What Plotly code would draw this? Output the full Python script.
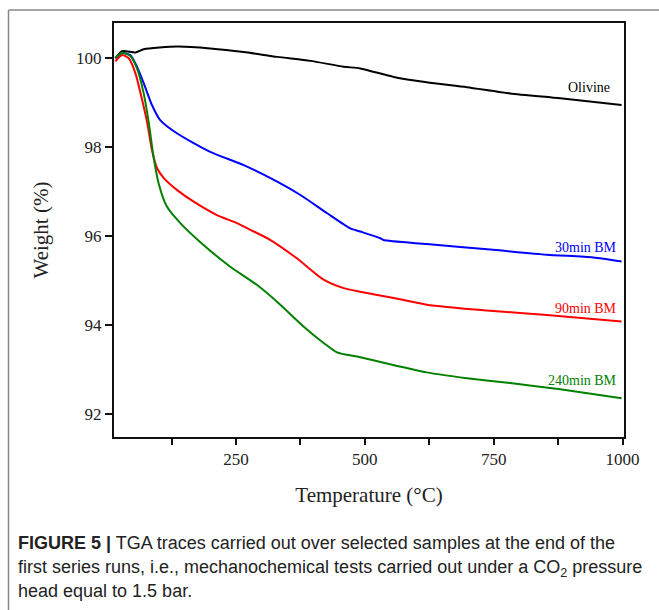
import plotly.graph_objects as go

# ---- data ----
olivine_T = [16, 29, 55, 71, 136, 200, 265, 330, 394, 459, 491, 556, 620, 698, 782, 879, 998]
olivine_W = [99.99, 100.15, 100.12, 100.19, 100.25, 100.21, 100.13, 100.02, 99.93, 99.80, 99.76, 99.57, 99.45, 99.34, 99.20, 99.09, 98.94]

bm30_T = [16, 29, 45, 58, 71, 87, 103, 136, 200, 265, 330, 375, 427, 472, 491, 530, 536, 620, 749, 853, 943, 998]
bm30_W = [99.99, 100.11, 100.06, 99.80, 99.43, 98.94, 98.60, 98.30, 97.89, 97.59, 97.22, 96.92, 96.51, 96.17, 96.10, 95.95, 95.91, 95.82, 95.69, 95.58, 95.52, 95.43]

bm90_T = [16, 29, 42, 55, 68, 78, 87, 97, 110, 136, 168, 213, 252, 278, 317, 368, 420, 459, 491, 556, 620, 736, 853, 998]
bm90_W = [99.92, 100.06, 99.99, 99.65, 99.05, 98.53, 97.93, 97.52, 97.30, 97.03, 96.77, 96.47, 96.29, 96.14, 95.91, 95.50, 95.02, 94.83, 94.75, 94.61, 94.46, 94.33, 94.23, 94.08]

bm240_T = [16, 29, 45, 58, 71, 81, 90, 100, 116, 142, 187, 239, 291, 336, 381, 420, 446, 491, 620, 698, 782, 879, 998]
bm240_W = [100.0, 100.11, 100.04, 99.76, 99.20, 98.53, 97.78, 97.18, 96.66, 96.29, 95.80, 95.31, 94.90, 94.46, 93.97, 93.60, 93.39, 93.28, 92.94, 92.81, 92.70, 92.56, 92.36]

series_names = ["Olivine", "30min BM", "90min BM", "240min BM"]
series_colors = ["#000000", "#0000ff", "#ff0000", "#008000"]

x_tickvals = [250, 500, 750, 1000]
y_tickvals = [92, 94, 96, 98, 100]

# ---- layout geometry ----
W, H = 659, 610
L, R, T, B = 114, 624, 23, 437
pw, ph = R - L, B - T


def px(x):
    return (x - L) / pw


def py(y):
    return (B - y) / ph


fig = go.Figure()
for Tv, Wv, name, col in zip([olivine_T, bm30_T, bm90_T, bm240_T],
                             [olivine_W, bm30_W, bm90_W, bm240_W],
                             series_names, series_colors):
    fig.add_trace(go.Scatter(x=Tv, y=Wv, mode="lines", name=name,
                             line=dict(color=col, width=2, shape="spline", smoothing=0.6),
                             showlegend=False, hoverinfo="skip"))

serif = "Liberation Serif, Times New Roman, serif"
sans = "Liberation Sans, Arial, Helvetica, sans-serif"

fig.update_layout(
    width=W, height=H,
    margin=dict(l=L, r=W - R, t=T, b=H - B),
    paper_bgcolor="white", plot_bgcolor="white",
    font=dict(family=serif, size=17, color="#111"),
    xaxis=dict(range=[13.4, 1002.7], tickvals=x_tickvals,
               ticks="outside", ticklen=6, tickwidth=2, tickcolor="#111",
               minor=dict(ticks="outside", dtick=125, tick0=0, ticklen=6, tickwidth=2, tickcolor="#111"),
               showline=True, linecolor="#111", linewidth=2, mirror=True,
               showgrid=False, zeroline=False, automargin=False,
               tickfont=dict(family=serif, size=17, color="#222"),
               title=dict(text="Temperature (°C)", standoff=19,
                          font=dict(family=serif, size=21, color="#222"))),
    yaxis=dict(range=[91.49, 100.78], tickvals=y_tickvals,
               ticks="outside", ticklen=7, tickwidth=2, tickcolor="#111",
               showline=True, linecolor="#111", linewidth=2, mirror=True,
               showgrid=False, zeroline=False, automargin=False,
               tickfont=dict(family=serif, size=17, color="#222"),
               title=dict(text="Weight (%)", standoff=22,
                          font=dict(family=serif, size=21, color="#222"))),
)

ann = []
# series labels
label_pos = [(612, 87.5), (619, 247.5), (619, 308), (619, 380)]
for name, col, (lx, ly) in zip(series_names, series_colors, label_pos):
    ann.append(dict(text=name, x=px(lx), y=py(ly), xref="paper", yref="paper",
                    xanchor="right", yanchor="middle", showarrow=False,
                    font=dict(family=serif, size=14, color=col)))
# caption
cap = ["<b>FIGURE 5 |</b> TGA traces carried out over selected samples at the end of the",
       "first series runs, i.e., mechanochemical tests carried out under a CO<sub>2</sub> pressure",
       "head equal to 1.5 bar."]
for line, cy in zip(cap, [543, 568, 591]):
    ann.append(dict(text=line, x=px(16), y=py(cy), xref="paper", yref="paper",
                    xanchor="left", yanchor="middle", showarrow=False,
                    font=dict(family=sans, size=18, color="#222")))
fig.update_layout(annotations=ann)

# outer frame (gray top and left rules)
fig.add_shape(type="line", xref="paper", yref="paper", x0=px(8.5), x1=px(659), y0=py(10), y1=py(10),
              line=dict(color="#888", width=1.5))
fig.add_shape(type="line", xref="paper", yref="paper", x0=px(8.5), x1=px(8.5), y0=py(10), y1=py(610),
              line=dict(color="#888", width=1.5))

fig.write_html("out.html")
